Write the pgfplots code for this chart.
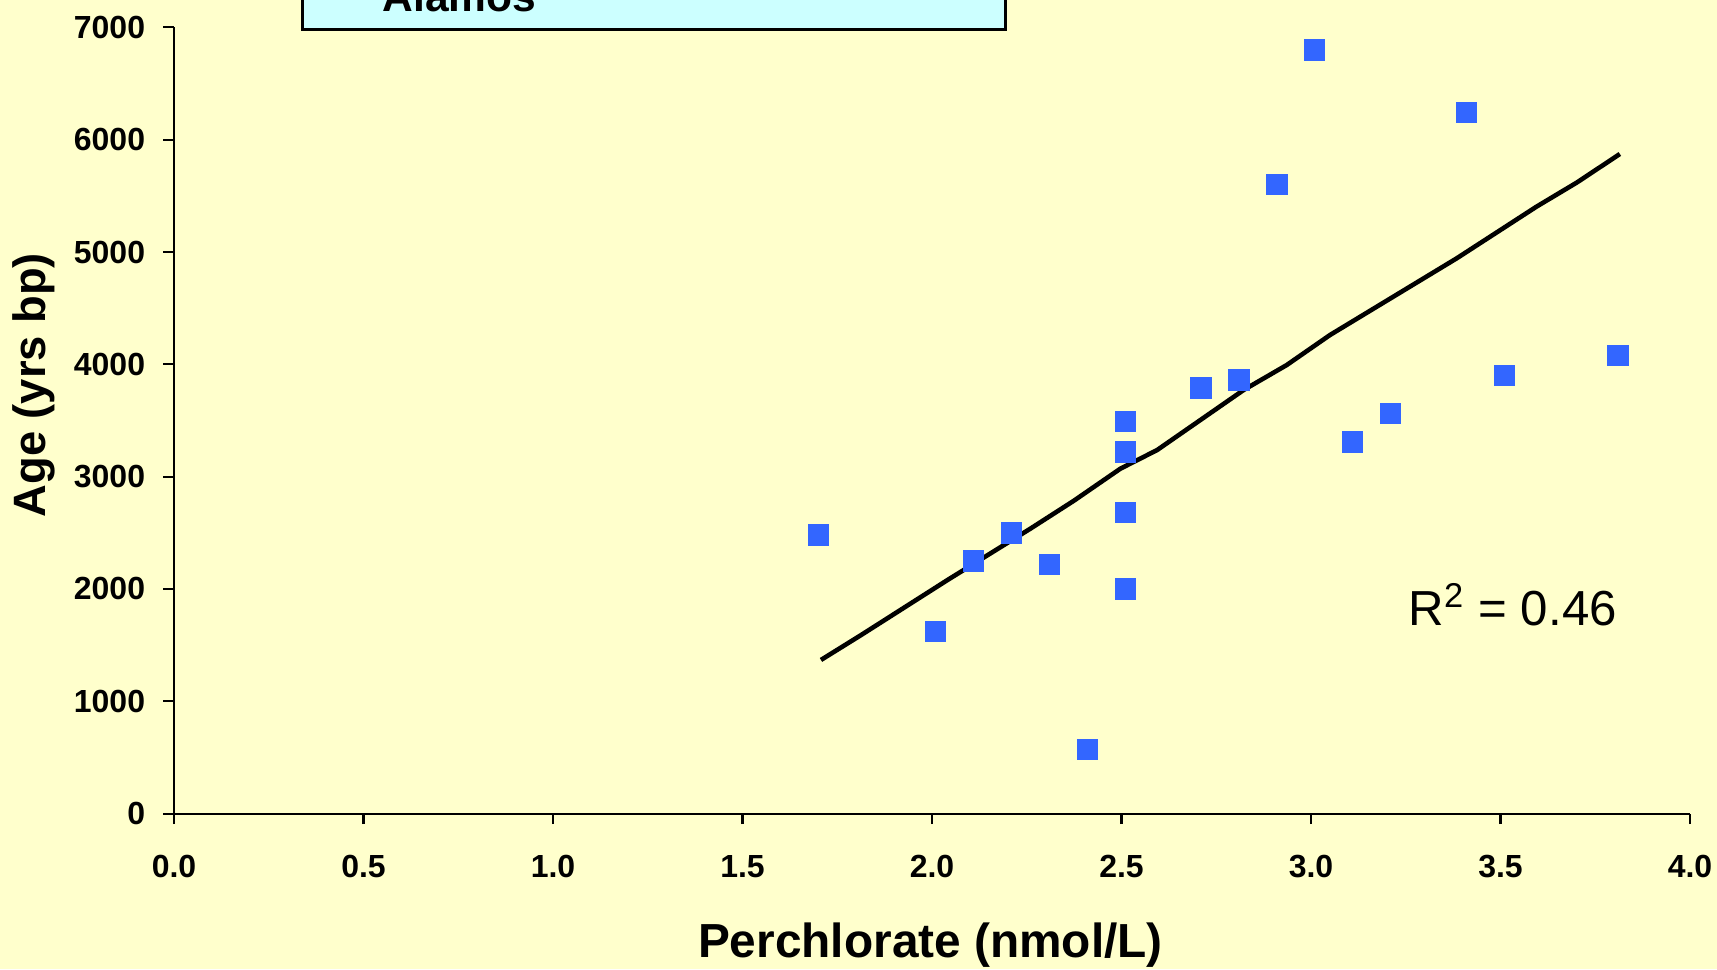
\documentclass[border=0pt]{standalone}
\usepackage{pgfplots}
\pgfplotsset{compat=1.18}
\usepackage{fontspec}
\setmainfont{Liberation Sans}
\definecolor{bgyellow}{HTML}{FFFFCC}
\definecolor{boxcyan}{HTML}{CCFFFF}
\definecolor{markblue}{HTML}{3366FF}

\begin{document}
\begin{tikzpicture}
\fill[bgyellow] (-1.74cm,-1.554cm) rectangle (15.43cm,8.136cm);
\begin{axis}[
  scale only axis,
  width=15.16cm, height=7.862cm,
  xmin=0, xmax=4, ymin=0, ymax=7000,
  axis lines=left,
  axis line style={-, line width=0.6pt},
  tick align=outside,
  major tick length=1.05mm,
  tick style={black, line width=0.6pt},
  xtick={0,0.5,...,4},
  ytick={0,1000,...,7000},
  /pgf/number format/assume math mode=true,
  /pgf/number format/1000 sep={},
  xticklabel={\pgfmathprintnumber[fixed,fixed zerofill,precision=1]{\tick}},
  ticklabel style={font=\bfseries\fontsize{9.1}{11}\selectfont},
  xticklabel style={anchor=base, yshift=-5.3mm},
  yticklabel style={anchor=east, xshift=-0.6mm},
  xlabel={Perchlorate (nmol/L)},
  ylabel={Age (yrs bp)},
  xlabel style={font=\bfseries\fontsize{13.6}{16}\selectfont, at={(axis description cs:0.499,-0.167)}, anchor=center},
  ylabel style={font=\bfseries\fontsize{12.9}{15}\selectfont, at={(axis description cs:-0.0923,0.545)}, anchor=center},
  clip=false,
]
\addplot[only marks, mark=square*, mark size=1.0mm, mark options={draw=markblue, fill=markblue}] coordinates {
  (1.70,2480) (2.01,1620) (2.11,2250) (2.21,2500) (2.31,2220) (2.41,570)
  (2.51,3490) (2.51,3220) (2.51,2680) (2.51,2000) (2.71,3790) (2.81,3860)
  (2.91,5600) (3.01,6800) (3.11,3310) (3.21,3560) (3.41,6240) (3.51,3900)
  (3.81,4080)
};
\addplot[black, line width=1.3pt] coordinates {
  (1.707,1368) (1.813,1590) (2.041,2080) (2.261,2540) (2.374,2785)
  (2.497,3071) (2.594,3237) (2.822,3771) (2.936,3994) (3.05,4261)
  (3.384,4943) (3.595,5404) (3.701,5618) (3.815,5873)
};
\draw[fill=boxcyan, line width=0.8pt] (axis cs:0.338,6980) rectangle (axis cs:2.193,7700);
\node[anchor=base west, font=\bfseries\fontsize{12.1}{14}\selectfont, inner sep=0pt] at (axis cs:0.549,7146) {Alamos};
\node[font=\fontsize{14}{16}\selectfont] at (axis cs:3.532,1862) {R\textsuperscript{2} = 0.46};
\end{axis}
\pgfresetboundingbox
\useasboundingbox (-1.74cm,-1.554cm) rectangle (15.43cm,8.136cm);
\end{tikzpicture}
\end{document}
